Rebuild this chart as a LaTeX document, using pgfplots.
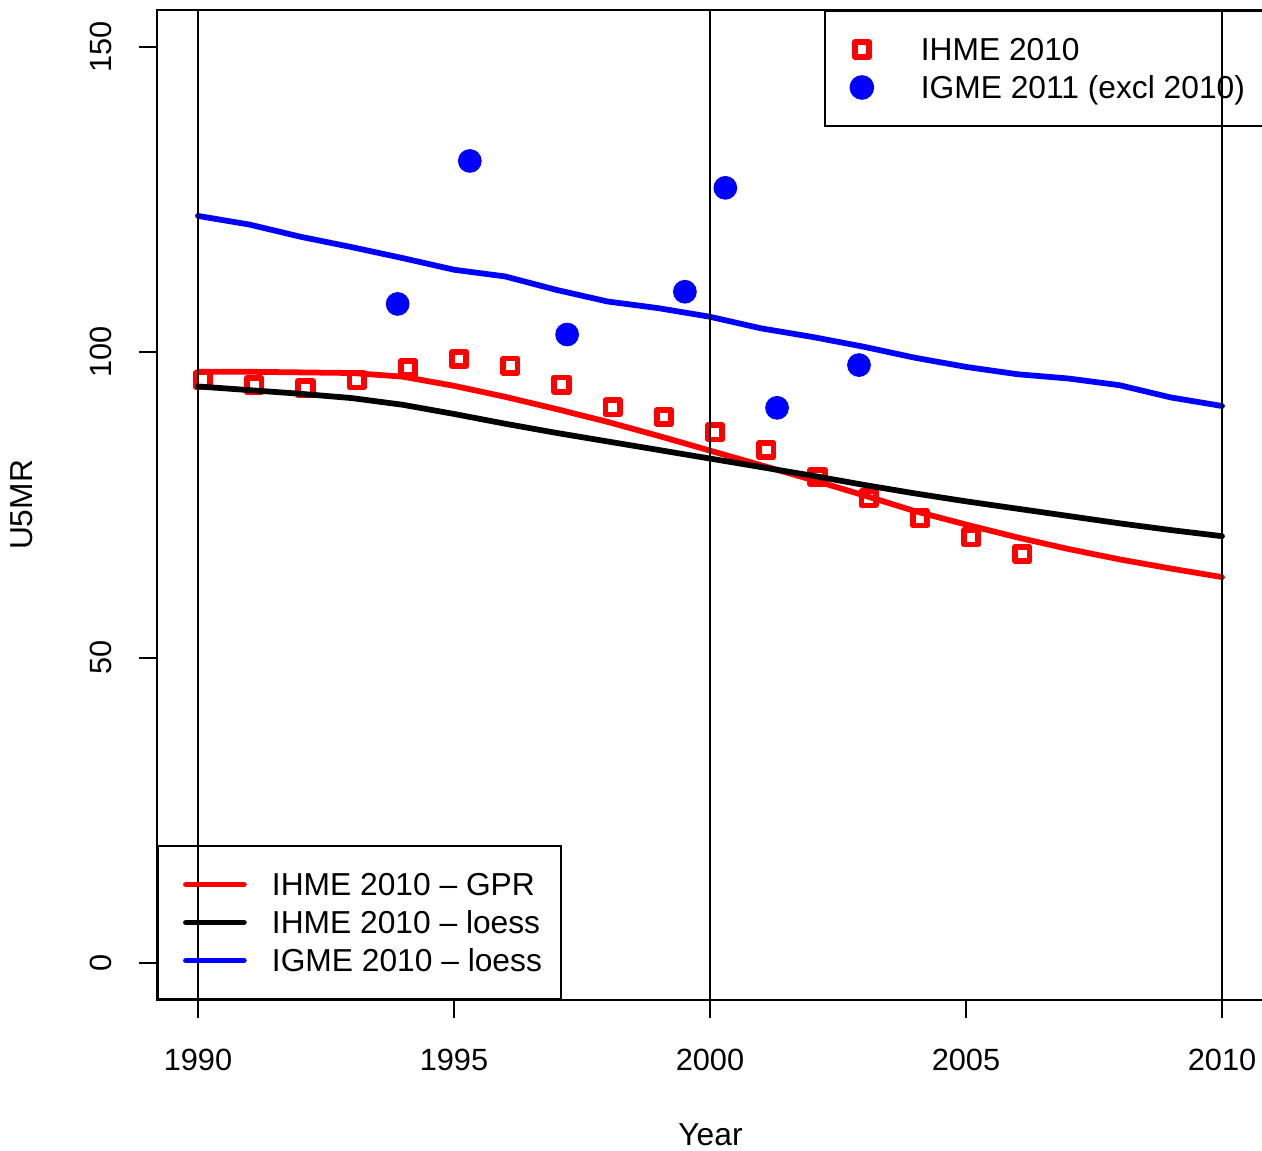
\documentclass[border=0pt]{standalone}
\usepackage{fontspec}
\setmainfont{Liberation Sans}
\usepackage{pgfplots}
\pgfplotsset{compat=1.18}
\begin{document}
\begin{tikzpicture}
\useasboundingbox (0,0) rectangle (492.97pt,449.61pt);
\pgfplotsset{
  base/.style={
    at={(61.33pt,58.98pt)}, anchor=south west,
    scale only axis, width=432.42pt, height=386.72pt,
    xmin=1989.2, xmax=2010.82, ymin=-6, ymax=156,
    clip marker paths=true,
    legend cell align=left,
  },
}
\begin{axis}[base,
  axis line style={black, line width=0.75pt},
  tick pos=left, tick align=outside, major tick length=7.2pt,
  tick style={black, line width=0.75pt},
  xtick={1990,1995,2000,2005,2010},
  xticklabels={1990,1995,2000,2005,2010},
  ytick={0,50,100,150},
  yticklabels={0,50,100,150},
  xticklabel style={anchor=north, inner sep=0pt, font=\fontsize{12}{14}\selectfont},
  yticklabel style={rotate=90, anchor=south, inner sep=0pt, font=\fontsize{12}{14}\selectfont},
  xticklabel shift=11.67pt, yticklabel shift=10.38pt,
  xlabel={Year}, ylabel={U5MR},
  xlabel style={at={([yshift=-48.05pt]axis description cs:0.5,0)}, anchor=north, inner sep=0pt, font=\fontsize{12.4}{14}\selectfont},
  ylabel style={at={([xshift=-48.3pt]axis description cs:0,0.5)}, anchor=south, inner sep=0pt, font=\fontsize{12.4}{14}\selectfont},
  legend style={at={(1,1)}, anchor=north east, draw=black, line width=0.75pt, fill=none,
    inner xsep=7.07pt, inner ysep=7.62pt, row sep=0pt,
    font=\fontsize{12.4}{14}\selectfont,
    nodes={inner sep=0pt, text height=11.86pt, text depth=2.98pt}},
  legend image code/.code={\path[draw=none,fill=none] (-7.42pt,0pt) -- (23.05pt,0pt); \draw[#1] plot coordinates {(0pt,0pt)};},
]
\addplot[red, only marks, mark=square, mark size=2.8pt, mark options={line width=2.25pt, line join=round}]
  coordinates {
  (1989.13,96.6) (1990.1,95.5) (1991.1,94.6) (1992.1,94.1) (1993.1,95.4)
  (1994.1,97.4) (1995.1,98.9) (1996.1,97.8) (1997.1,94.7) (1998.1,91.0)
  (1999.1,89.4) (2000.1,86.9) (2001.1,84.0) (2002.1,79.6) (2003.1,76.1)
  (2004.1,72.8) (2005.1,69.7) (2006.1,67.0)
  };
\addlegendentry{IHME 2010}
\addplot[blue, only marks, mark=*, mark size=4.43pt, mark options={fill=blue, draw=none}]
  coordinates {
  (1993.90,107.9) (1995.31,131.3) (1997.21,102.9) (1999.51,109.9)
  (2000.30,126.9) (2001.31,90.9) (2002.91,97.9)
  };
\addlegendentry{IGME 2011 (excl 2010)}
\end{axis}
\begin{axis}[base, hide axis,
  legend style={at={(0,0)}, anchor=south west, draw=black, line width=0.75pt, fill=none,
    inner xsep=7.42pt, inner ysep=7.62pt, row sep=0pt,
    font=\fontsize{12.4}{14}\selectfont,
    nodes={inner sep=0pt, text height=11.86pt, text depth=2.98pt}},
  legend image code/.code={\path[draw=none,fill=none] (-3.5pt,0pt) -- (33.61pt,0pt); \draw[#1] (0pt,0pt) -- (22.65pt,0pt);},
]
\addplot[red, line width=2.25pt, line join=round, line cap=round] coordinates {
  (1990,96.8) (1991,96.8) (1992,96.7) (1993,96.6) (1994,96.0) (1995,94.5)
  (1996,92.7) (1997,90.7) (1998,88.6) (1999,86.3) (2000,83.9) (2001,81.5)
  (2002,79.1) (2003,76.6) (2004,74.0) (2005,71.8) (2006,69.7) (2007,67.8)
  (2008,66.1) (2009,64.6) (2010,63.2)
  };
\addlegendentry{IHME 2010 -- GPR}
\addplot[black, line width=2.25pt, line join=round, line cap=round] coordinates {
  (1990,94.4) (1991,93.8) (1992,93.2) (1993,92.5) (1994,91.4) (1995,89.9)
  (1996,88.3) (1997,86.8) (1998,85.4) (1999,84.0) (2000,82.6) (2001,81.2)
  (2002,79.8) (2003,78.3) (2004,76.9) (2005,75.6) (2006,74.4) (2007,73.2)
  (2008,72.0) (2009,70.9) (2010,69.9)
  };
\addlegendentry{IHME 2010 -- loess}
\addplot[blue, line width=2.25pt, line join=round, line cap=round] coordinates {
  (1990,122.3) (1991,120.9) (1992,118.9) (1993,117.2) (1994,115.4) (1995,113.5)
  (1996,112.4) (1997,110.2) (1998,108.3) (1999,107.2) (2000,105.8) (2001,103.9)
  (2002,102.5) (2003,100.9) (2004,99.1) (2005,97.6) (2006,96.4) (2007,95.7)
  (2008,94.6) (2009,92.6) (2010,91.2)
  };
\addlegendentry{IGME 2010 -- loess}
\addplot[black, line width=0.75pt, forget plot] coordinates {(1990,-6) (1990,156)};
\addplot[black, line width=0.75pt, forget plot] coordinates {(2000,-6) (2000,156)};
\addplot[black, line width=0.75pt, forget plot] coordinates {(2010,-6) (2010,156)};
\end{axis}
\end{tikzpicture}
\end{document}
